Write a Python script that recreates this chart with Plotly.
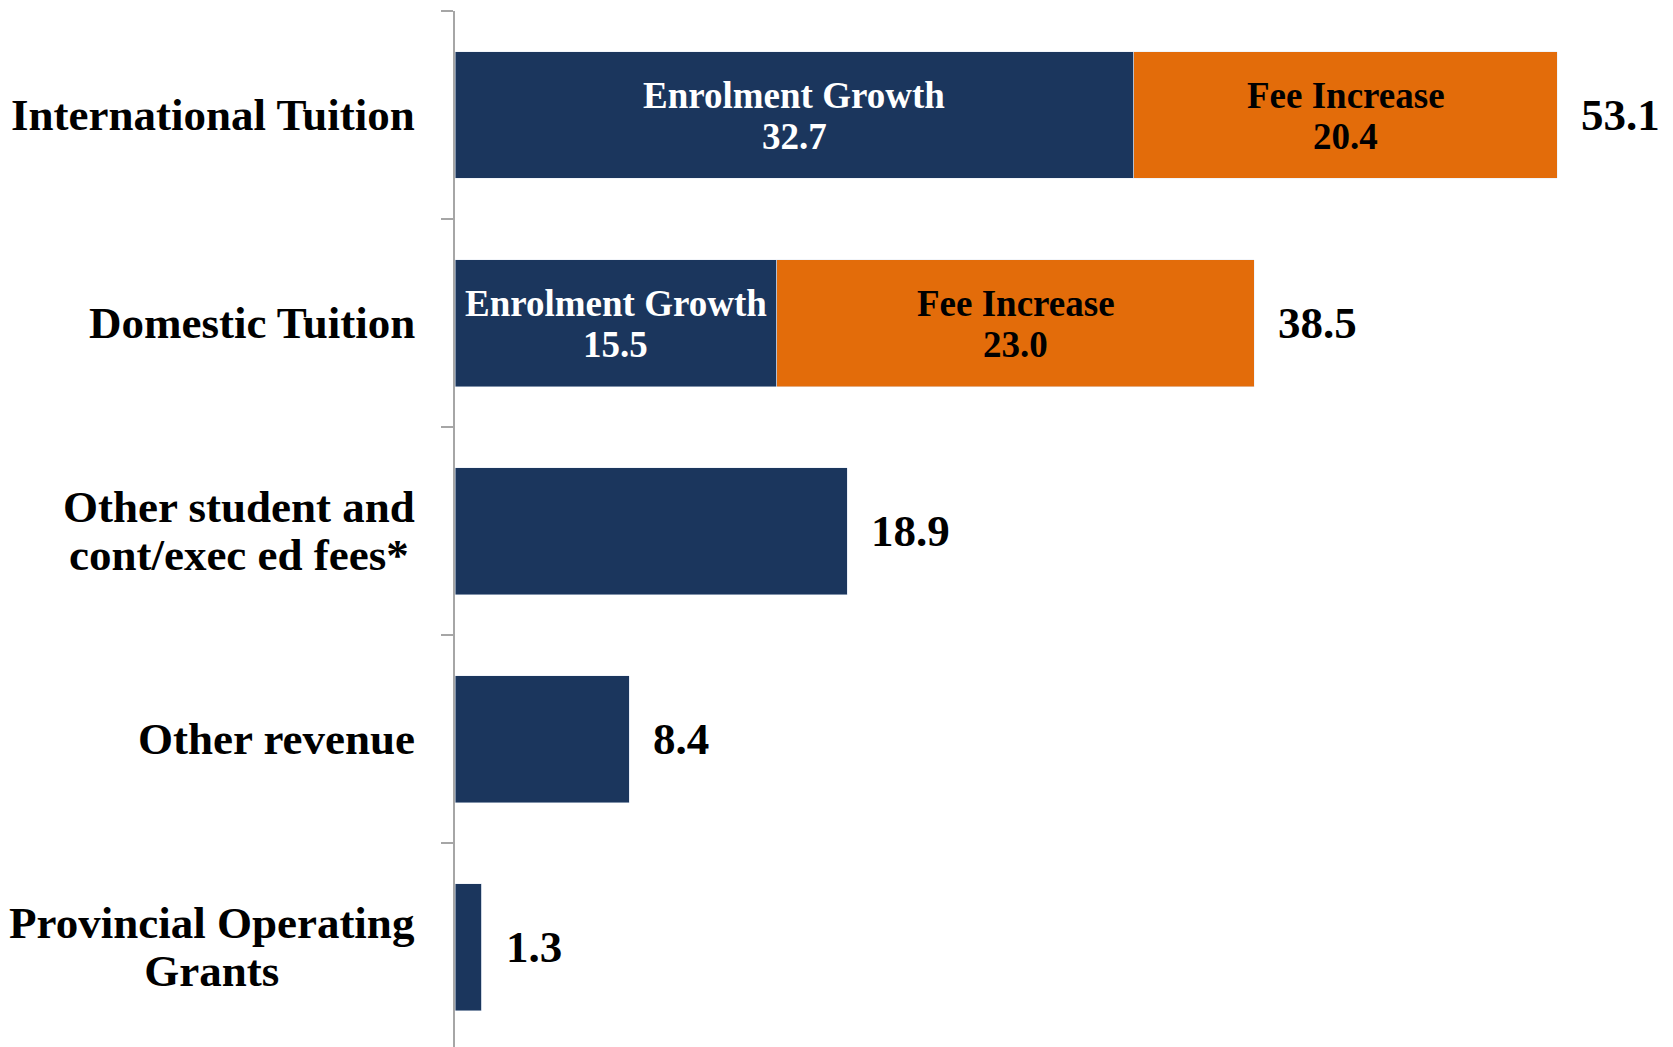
import plotly.graph_objects as go

categories = ["International Tuition", "Domestic Tuition", "Other student and<br>cont/exec ed fees*",
              "Other revenue", "Provincial Operating<br>Grants"]
enrolment_growth = [32.7, 15.5, 18.9, 8.4, 1.3]
fee_increase = [20.4, 23.0, 0, 0, 0]
totals = [53.1, 38.5, 18.9, 8.4, 1.3]
segment_names = ["Enrolment Growth", "Fee Increase"]

NAVY = "#1B365D"
ORANGE = "#E36C0A"
FONT = "Liberation Serif"
AXIS_GRAY = "#A6A6A6"

fig = go.Figure()
fig.add_trace(go.Bar(y=categories, x=enrolment_growth, orientation="h", marker_color=NAVY,
                     name=segment_names[0], hoverinfo="x+y"))
fig.add_trace(go.Bar(y=categories, x=fee_increase, orientation="h", marker_color=ORANGE,
                     name=segment_names[1], hoverinfo="x+y"))

annotations = []
# category labels (line spacing tightened: base font 37 -> 1.3*37 spacing, glyphs at 45px)
for c in categories:
    lines = c.split("<br>")
    txt = "<br>".join(f'<span style="font-size:45px">{ln}</span>' for ln in lines)
    annotations.append(dict(x=0, xref="paper", y=c, yref="y", text=f"<b>{txt}</b>", showarrow=False,
                            xanchor="right", yanchor="middle", align="center", xshift=-38,
                            font=dict(family=FONT, size=37, color="black")))
# in-bar labels
for c, e, f in zip(categories, enrolment_growth, fee_increase):
    if f > 0:
        for xc, val, name, col in [(e / 2, e, segment_names[0], "white"),
                                   (e + f / 2, f, segment_names[1], "black")]:
            for txt, ys in [(name, 20), (f"{val:.1f}", -21)]:
                annotations.append(dict(x=xc, y=c, xref="x", yref="y", text=f"<b>{txt}</b>",
                                        showarrow=False, xanchor="center", yanchor="middle",
                                        yshift=ys, font=dict(family=FONT, size=37, color=col)))
# totals
for c, t in zip(categories, totals):
    annotations.append(dict(x=t, y=c, xref="x", yref="y", text=f"<b>{t:.1f}</b>", showarrow=False,
                            xanchor="left", yanchor="middle", xshift=22,
                            font=dict(family=FONT, size=45, color="black")))

fig.update_layout(
    barmode="stack",
    bargap=0.39,
    width=1665, height=1039,
    margin=dict(l=447, r=0, t=3, b=0, pad=0),
    plot_bgcolor="white", paper_bgcolor="white",
    showlegend=False,
    annotations=annotations,
    xaxis=dict(visible=False, range=[0, 58.67], fixedrange=True),
    yaxis=dict(type="category", categoryorder="array", categoryarray=categories,
               range=[4.48, -0.5], showticklabels=False, showline=True, linecolor=AXIS_GRAY,
               linewidth=1.5, ticks="outside", tickson="boundaries", ticklen=12,
               tickcolor=AXIS_GRAY, tickwidth=1.5, showgrid=False, zeroline=False, fixedrange=True),
)

fig.write_html("out.html")
